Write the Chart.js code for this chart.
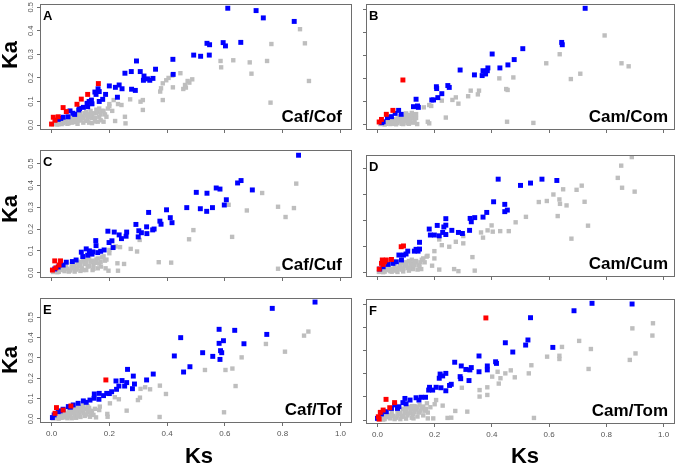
<!DOCTYPE html>
<html>
<head>
<meta charset="utf-8">
<script src="https://cdn.jsdelivr.net/npm/chart.js@4.4.1/dist/chart.umd.min.js"></script>
<style>
  body { margin: 0; background: #fff; }
  #wrap { position: relative; width: 680px; height: 467px; overflow: hidden; }
  canvas { position: absolute; }
</style>
</head>
<body>
<div id="wrap"></div>
<script>
// Ka / Ks pairs, one set of arrays per panel
const letters = ['A', 'B', 'C', 'D', 'E', 'F'];
const pairs = ['Caf/Cof', 'Cam/Com', 'Caf/Cuf', 'Cam/Cum', 'Caf/Tof', 'Cam/Tom'];
const xTicks = [0, 0.2, 0.4, 0.6, 0.8, 1.0];
const yTicks5 = [0, 0.1, 0.2, 0.3, 0.4, 0.5];
const yTicks4 = [0, 0.1, 0.2, 0.3, 0.4];

// A - Caf/Cof
const blueA = [[0.61,0.496],[0.708,0.486],[0.733,0.455],[0.84,0.44],[0.538,0.347],[0.547,0.341],[0.594,0.35],[0.602,0.336],[0.655,0.351],[0.492,0.297],[0.516,0.292],[0.546,0.297],[0.42,0.279],[0.294,0.272],[0.421,0.215],[0.36,0.237],[0.254,0.22],[0.276,0.227],[0.307,0.227],[0.32,0.208],[0.318,0.19],[0.34,0.19],[0.351,0.198],[0.332,0.196],[0.234,0.17],[0.221,0.16],[0.244,0.154],[0.228,0.118],[0.277,0.152],[0.29,0.147],[0.2,0.166],[0.161,0.154],[0.165,0.142],[0.154,0.13],[0.15,0.14],[0.187,0.13],[0.177,0.109],[0.138,0.106],[0.123,0.092],[0.14,0.09],[0.125,0.078],[0.097,0.07],[0.094,0.064],[0.064,0.06],[0.074,0.05],[0.057,0.035],[0.04,0.033],[0.023,0.024],[0.032,0.028],[0.165,0.1],[0.13,0.1],[0.11,0.075],[0.08,0.045]];
const redA = [[0.162,0.176],[0.125,0.13],[0.103,0.11],[0.088,0.088],[0.04,0.074],[0.051,0.057],[0.006,0.033],[0.023,0.035],[0,0.004],[0.012,0.02]];
const grayA = [[0.86,0.407],[0.877,0.347],[0.761,0.344],[0.891,0.187],[0.758,0.095],[0.746,0.272],[0.686,0.266],[0.692,0.218],[0.629,0.275],[0.585,0.272],[0.587,0.245],[0.487,0.194],[0.471,0.187],[0.477,0.18],[0.462,0.17],[0.456,0.153],[0.465,0.159],[0.446,0.22],[0.418,0.21],[0.405,0.2],[0.397,0.19],[0.385,0.177],[0.379,0.156],[0.376,0.142],[0.385,0.106],[0.42,0.16],[0.316,0.106],[0.308,0.099],[0.316,0.064],[0.272,0.109],[0.254,0.035],[0.256,0.007],[0.22,0.017],[0.215,0.106],[0.23,0.089],[0.242,0.085],[0.2,0.089],[0.18,0.014],[0.16,0.014],[0.154,0.05],[0.165,0.07],
  [0.005,0.003],[0.015,0.006],[0.025,0.004],[0.03,0.012],[0.04,0.008],[0.05,0.015],[0.055,0.005],[0.065,0.02],[0.07,0.01],[0.08,0.025],[0.085,0.012],[0.09,0.03],[0.1,0.02],[0.105,0.035],[0.11,0.01],[0.12,0.04],[0.125,0.025],[0.13,0.045],[0.14,0.03],[0.145,0.05],[0.15,0.015],[0.16,0.055],[0.165,0.035],[0.175,0.06],[0.185,0.045],[0.195,0.07],[0.045,0.02],[0.075,0.035],[0.095,0.045],[0.115,0.05],[0.135,0.06],[0.02,0.015],[0.06,0.03],[0.09,0.005],[0.13,0.01],[0.2,0.08],
  [0.01,0.01],[0.02,0.002],[0.035,0.004],[0.045,0.012],[0.06,0.008],[0.07,0.022],[0.08,0.015],[0.095,0.02],[0.1,0.038],[0.11,0.028],[0.12,0.018],[0.13,0.035],[0.14,0.045],[0.15,0.03],[0.155,0.065],[0.17,0.045],[0.18,0.06],[0.19,0.035],[0.12,0.055],[0.1,0.05],[0.085,0.04],[0.14,0.008],[0.17,0.02],[0.21,0.06]];

// B - Cam/Com
const blueB = [[0.726,0.503],[0.644,0.356],[0.646,0.346],[0.508,0.329],[0.478,0.282],[0.456,0.259],[0.428,0.246],[0.401,0.306],[0.386,0.246],[0.384,0.234],[0.369,0.234],[0.378,0.22],[0.366,0.213],[0.339,0.216],[0.289,0.237],[0.246,0.17],[0.251,0.162],[0.225,0.135],[0.206,0.165],[0.207,0.157],[0.211,0.118],[0.196,0.108],[0.19,0.108],[0.135,0.111],[0.14,0.082],[0.143,0.076],[0.126,0.079],[0.074,0.063],[0.083,0.046],[0.062,0.05],[0.049,0.036],[0.035,0.032],[0.02,0.014],[0.015,0.01]];
const redB = [[0.089,0.194],[0.054,0.063],[0.031,0.046],[0.014,0.024],[0.006,0.013]];
const grayB = [[0.794,0.386],[0.853,0.266],[0.878,0.253],[0.637,0.305],[0.59,0.266],[0.709,0.221],[0.676,0.198],[0.545,0.009],[0.453,0.014],[0.475,0.205],[0.426,0.201],[0.45,0.155],[0.455,0.151],[0.355,0.148],[0.351,0.132],[0.326,0.148],[0.317,0.124],[0.283,0.092],[0.274,0.119],[0.262,0.108],[0.225,0.105],[0.188,0.082],[0.181,0.086],[0.162,0.076],[0.239,0.032],[0.181,0.007],[0.176,0.014],[0.139,0.004],[0.135,0.047],[0.114,0.043],[0.112,0.022],[0.1,0.05],
  [0.01,0.004],[0.02,0.008],[0.03,0.005],[0.04,0.012],[0.05,0.006],[0.06,0.015],[0.07,0.008],[0.08,0.02],[0.09,0.012],[0.1,0.025],[0.11,0.015],[0.12,0.03],[0.13,0.02],[0.035,0.018],[0.055,0.025],[0.075,0.03],[0.095,0.035],[0.115,0.04],[0.065,0.003],[0.085,0.005],[0.105,0.008],[0.125,0.01],[0.045,0.028],[0.1,0.045],[0.12,0.052],
  [0.015,0.012],[0.025,0.002],[0.045,0.004],[0.055,0.012],[0.065,0.022],[0.075,0.015],[0.085,0.028],[0.09,0.004],[0.095,0.018],[0.105,0.03],[0.11,0.005],[0.115,0.022],[0.125,0.035],[0.13,0.045],[0.135,0.03],[0.08,0.038],[0.07,0.028],[0.06,0.005]];

// C - Caf/Cuf
const blueC = [[0.855,0.538],[0.644,0.411],[0.656,0.422],[0.695,0.379],[0.57,0.388],[0.583,0.383],[0.501,0.368],[0.538,0.364],[0.515,0.293],[0.557,0.298],[0.537,0.281],[0.605,0.334],[0.598,0.31],[0.468,0.298],[0.398,0.288],[0.336,0.276],[0.411,0.252],[0.417,0.229],[0.375,0.236],[0.379,0.222],[0.292,0.221],[0.329,0.21],[0.35,0.196],[0.355,0.2],[0.33,0.179],[0.302,0.192],[0.311,0.183],[0.3,0.164],[0.26,0.186],[0.258,0.167],[0.242,0.156],[0.234,0.173],[0.195,0.19],[0.217,0.186],[0.209,0.146],[0.199,0.138],[0.213,0.115],[0.153,0.147],[0.154,0.124],[0.12,0.109],[0.131,0.1],[0.143,0.095],[0.16,0.092],[0.103,0.094],[0.108,0.074],[0.085,0.058],[0.072,0.051],[0.051,0.048],[0.04,0.035],[0.023,0.026],[0.011,0.017],[0.182,0.104],[0.17,0.098],[0.14,0.085],[0.125,0.08]];
const redC = [[0.011,0.054],[0.031,0.054],[0.026,0.035],[0.003,0.012],[0.015,0.022]];
const grayC = [[0.847,0.408],[0.839,0.296],[0.81,0.255],[0.784,0.302],[0.784,0.018],[0.729,0.365],[0.676,0.285],[0.613,0.311],[0.625,0.164],[0.491,0.195],[0.476,0.153],[0.414,0.046],[0.371,0.048],[0.296,0.097],[0.305,0.15],[0.274,0.109],[0.251,0.04],[0.228,0.043],[0.23,0.009],[0.237,0.117],[0.222,0.12],[0.2,0.104],[0.2,0.089],[0.187,0.02],[0.197,0.009],[0.171,0.028],[0.154,0.051],[0.142,0.012],
  [0.005,0.003],[0.015,0.008],[0.025,0.004],[0.035,0.012],[0.045,0.007],[0.055,0.018],[0.065,0.01],[0.075,0.025],[0.085,0.014],[0.095,0.032],[0.105,0.02],[0.115,0.04],[0.125,0.028],[0.135,0.05],[0.145,0.035],[0.155,0.06],[0.165,0.042],[0.175,0.07],[0.05,0.028],[0.07,0.038],[0.09,0.045],[0.11,0.055],[0.13,0.065],[0.03,0.02],[0.08,0.005],[0.1,0.008],[0.12,0.012],[0.16,0.02],[0.185,0.055],
  [0.01,0.012],[0.02,0.002],[0.04,0.02],[0.06,0.005],[0.07,0.02],[0.08,0.03],[0.09,0.02],[0.1,0.035],[0.11,0.012],[0.12,0.045],[0.13,0.03],[0.14,0.055],[0.15,0.045],[0.16,0.065],[0.17,0.05],[0.18,0.075],[0.19,0.06],[0.12,0.06],[0.1,0.05],[0.145,0.018]];

// D - Cam/Cum
const blueD = [[0.422,0.36],[0.5,0.336],[0.535,0.345],[0.575,0.36],[0.627,0.355],[0.406,0.273],[0.445,0.263],[0.445,0.235],[0.454,0.241],[0.382,0.232],[0.369,0.214],[0.34,0.212],[0.324,0.209],[0.328,0.196],[0.239,0.208],[0.209,0.182],[0.232,0.176],[0.239,0.183],[0.181,0.168],[0.185,0.145],[0.199,0.145],[0.216,0.142],[0.228,0.155],[0.239,0.147],[0.26,0.163],[0.283,0.155],[0.297,0.151],[0.322,0.163],[0.147,0.117],[0.147,0.091],[0.142,0.083],[0.129,0.083],[0.106,0.083],[0.091,0.068],[0.075,0.068],[0.084,0.049],[0.066,0.042],[0.054,0.036],[0.037,0.032],[0.02,0.023],[0.008,0.014],[0.135,0.09],[0.1,0.072]];
const redD = [[0.083,0.1],[0.091,0.103],[0.049,0.051],[0.031,0.049],[0.017,0.049],[0.014,0.036],[0.02,0.032],[0.025,0.042],[0.006,0.014]];
const grayD = [[0.889,0.445],[0.852,0.412],[0.84,0.365],[0.855,0.327],[0.899,0.312],[0.714,0.335],[0.696,0.319],[0.649,0.321],[0.724,0.273],[0.736,0.181],[0.678,0.131],[0.661,0.259],[0.636,0.282],[0.638,0.265],[0.615,0.301],[0.592,0.276],[0.564,0.272],[0.63,0.218],[0.519,0.215],[0.483,0.194],[0.459,0.16],[0.429,0.16],[0.399,0.182],[0.385,0.163],[0.362,0.155],[0.369,0.135],[0.403,0.158],[0.3,0.141],[0.3,0.113],[0.274,0.119],[0.251,0.1],[0.225,0.106],[0.216,0.128],[0.199,0.083],[0.199,0.055],[0.191,0.027],[0.216,0.012],[0.172,0.062],[0.268,0.014],[0.283,0.006],[0.332,0.06],[0.34,0.008],[0.153,0.014],[0.147,0.023],[0.124,0.014],[0.13,0.04],
  [0.005,0.003],[0.015,0.006],[0.025,0.004],[0.035,0.01],[0.045,0.006],[0.055,0.015],[0.065,0.008],[0.075,0.02],[0.085,0.012],[0.095,0.028],[0.105,0.018],[0.115,0.035],[0.125,0.025],[0.135,0.045],[0.145,0.03],[0.155,0.05],[0.04,0.018],[0.06,0.025],[0.08,0.032],[0.1,0.04],[0.12,0.05],[0.07,0.003],[0.09,0.005],[0.11,0.008],[0.165,0.04],[0.175,0.065],
  [0.01,0.01],[0.02,0.002],[0.03,0.016],[0.05,0.004],[0.07,0.014],[0.08,0.022],[0.09,0.016],[0.1,0.028],[0.11,0.02],[0.12,0.035],[0.13,0.03],[0.14,0.012],[0.15,0.04],[0.16,0.055],[0.11,0.045],[0.09,0.038]];

// E - Caf/Tof
const blueE = [[0.912,0.575],[0.764,0.544],[0.58,0.441],[0.634,0.436],[0.745,0.416],[0.447,0.4],[0.595,0.385],[0.58,0.372],[0.666,0.37],[0.585,0.336],[0.589,0.326],[0.523,0.326],[0.558,0.308],[0.583,0.293],[0.425,0.31],[0.479,0.257],[0.457,0.231],[0.352,0.221],[0.263,0.244],[0.329,0.192],[0.283,0.211],[0.287,0.172],[0.28,0.149],[0.253,0.162],[0.26,0.179],[0.244,0.189],[0.223,0.187],[0.233,0.162],[0.225,0.146],[0.208,0.134],[0.191,0.126],[0.165,0.126],[0.148,0.123],[0.147,0.102],[0.164,0.097],[0.133,0.093],[0.11,0.089],[0.092,0.077],[0.075,0.069],[0.058,0.061],[0.04,0.048],[0.023,0.036],[0.009,0.02],[0.003,0.007],[0.12,0.082],[0.18,0.115],[0.2,0.125],[0.065,0.058],[0.03,0.04]];
const redE = [[0.188,0.192],[0.017,0.056],[0.04,0.044],[0.067,0.064],[0.012,0.028]];
const grayE = [[0.889,0.43],[0.874,0.41],[0.808,0.331],[0.742,0.369],[0.658,0.303],[0.626,0.248],[0.602,0.241],[0.531,0.241],[0.637,0.162],[0.597,0.033],[0.396,0.123],[0.375,0.164],[0.374,0.01],[0.341,0.146],[0.324,0.156],[0.308,0.148],[0.306,0.105],[0.299,0.093],[0.26,0.041],[0.233,0.097],[0.219,0.107],[0.202,0.077],[0.193,0.025],[0.194,0.011],[0.167,0.061],[0.165,0.044],[0.154,0.008],[0.133,0.011],
  [0.005,0.003],[0.012,0.008],[0.02,0.004],[0.028,0.012],[0.035,0.006],[0.042,0.018],[0.05,0.008],[0.058,0.025],[0.065,0.012],[0.072,0.032],[0.08,0.018],[0.088,0.04],[0.095,0.025],[0.102,0.045],[0.11,0.03],[0.118,0.05],[0.125,0.035],[0.13,0.055],[0.045,0.03],[0.06,0.04],[0.075,0.048],[0.09,0.055],[0.105,0.06],[0.03,0.022],[0.07,0.004],[0.085,0.006],[0.1,0.01],[0.115,0.015],[0.14,0.04],[0.15,0.05],[0.11,0.068],
  [0.015,0.014],[0.025,0.002],[0.04,0.01],[0.055,0.004],[0.065,0.025],[0.08,0.03],[0.09,0.015],[0.1,0.038],[0.11,0.048],[0.12,0.022],[0.125,0.062],[0.135,0.028],[0.145,0.02],[0.095,0.05],[0.08,0.045],[0.13,0.045]];

// F - Cam/Tom
const blueF = [[0.75,0.503],[0.89,0.5],[0.687,0.471],[0.535,0.441],[0.447,0.333],[0.526,0.345],[0.518,0.323],[0.473,0.293],[0.613,0.313],[0.355,0.276],[0.413,0.251],[0.416,0.244],[0.384,0.233],[0.384,0.216],[0.355,0.208],[0.328,0.226],[0.309,0.218],[0.323,0.216],[0.293,0.233],[0.27,0.249],[0.289,0.187],[0.291,0.178],[0.32,0.17],[0.258,0.154],[0.252,0.149],[0.239,0.201],[0.219,0.198],[0.216,0.18],[0.228,0.19],[0.205,0.141],[0.222,0.139],[0.239,0.126],[0.182,0.141],[0.179,0.129],[0.193,0.129],[0.168,0.098],[0.145,0.086],[0.135,0.096],[0.114,0.086],[0.096,0.093],[0.089,0.075],[0.075,0.057],[0.06,0.065],[0.049,0.05],[0.031,0.036],[0.014,0.026],[0,0.007],[0.153,0.098],[0.1,0.07],[0.07,0.05]];
const redF = [[0.379,0.44],[0.03,0.089],[0.06,0.075],[0.043,0.053],[0.02,0.043],[0.01,0.033],[0.003,0.014],[0.006,0.004]];
const grayF = [[0.963,0.417],[0.891,0.395],[0.961,0.364],[0.902,0.287],[0.882,0.259],[0.746,0.306],[0.738,0.22],[0.705,0.341],[0.645,0.315],[0.636,0.277],[0.636,0.263],[0.593,0.273],[0.538,0.236],[0.529,0.201],[0.547,0.009],[0.48,0.184],[0.466,0.214],[0.447,0.201],[0.43,0.18],[0.424,0.157],[0.42,0.208],[0.401,0.187],[0.384,0.141],[0.384,0.108],[0.357,0.129],[0.357,0.101],[0.295,0.139],[0.314,0.036],[0.272,0.039],[0.258,0.01],[0.245,0.009],[0.228,0.062],[0.205,0.086],[0.173,0.072],[0.176,0.032],[0.176,0.007],[0.195,0.007],[0.147,0.065],[0.126,0.007],
  [0.005,0.003],[0.015,0.007],[0.025,0.004],[0.035,0.012],[0.045,0.007],[0.055,0.018],[0.065,0.01],[0.075,0.025],[0.085,0.014],[0.095,0.03],[0.105,0.02],[0.115,0.038],[0.125,0.026],[0.135,0.045],[0.145,0.032],[0.155,0.05],[0.165,0.04],[0.05,0.03],[0.07,0.04],[0.09,0.048],[0.11,0.055],[0.13,0.06],[0.08,0.004],[0.1,0.006],[0.12,0.01],[0.14,0.015],[0.185,0.055],[0.2,0.068],[0.03,0.022],
  [0.01,0.012],[0.02,0.002],[0.04,0.02],[0.06,0.004],[0.07,0.02],[0.08,0.032],[0.09,0.018],[0.1,0.04],[0.11,0.028],[0.12,0.045],[0.13,0.035],[0.14,0.055],[0.15,0.04],[0.16,0.058],[0.17,0.048],[0.16,0.02],[0.12,0.06],[0.1,0.052]];

const blues = [blueA, blueB, blueC, blueD, blueE, blueF];
const reds = [redA, redB, redC, redD, redE, redF];
const grays = [grayA, grayB, grayC, grayD, grayE, grayF];

// layout of each panel: plot box and canvas region in page pixels
const panels = [
  { box: [40, 4, 352, 130],  cv: [0, 0, 358, 145],     y: [-0.0212, 0.514],  ticks: yTicks5, left: true, ka: 55 },
  { box: [366, 4, 675, 130], cv: [358, 0, 680, 145],   y: [-0.0216, 0.5216], ticks: yTicks5 },
  { box: [40, 150, 352, 278], cv: [0, 145, 358, 290],  y: [-0.0244, 0.562],  ticks: yTicks5, left: true, ka: 209 },
  { box: [366, 155, 675, 277], cv: [358, 145, 680, 290], y: [-0.0165, 0.453], ticks: yTicks4 },
  { box: [40, 298, 352, 423], cv: [0, 290, 358, 467],  y: [-0.0197, 0.595],  ticks: yTicks5, left: true, ka: 360, ks: 199, bottom: true },
  { box: [366, 299, 675, 424], cv: [358, 290, 680, 467], y: [-0.0172, 0.5216], ticks: yTicks5, ks: 525, bottom: true }
];

const FONT = '"Liberation Sans", Arial, sans-serif';
Chart.defaults.font.family = FONT;
const LINE = '#6e6e6e';

// box, panel letter, pair name, axis titles, rotated y tick labels
const panelDecor = {
  id: 'panelDecor',
  afterDraw(chart) {
    const o = chart.options.plugins.panelDecor;
    const p = o.panel;
    const { ctx, chartArea: a } = chart;
    ctx.save();
    ctx.strokeStyle = LINE;
    ctx.lineWidth = 1;
    ctx.strokeRect(Math.round(a.left) + 0.5, Math.round(a.top) + 0.5,
      Math.round(a.right - a.left) - 1, Math.round(a.bottom - a.top) - 1);

    ctx.fillStyle = '#000';
    ctx.textBaseline = 'alphabetic';
    ctx.font = 'bold 13px ' + FONT;
    ctx.textAlign = 'left';
    ctx.fillText(o.letter, a.left + 3, a.top + 15.5);

    ctx.font = 'bold 17px ' + FONT;
    ctx.textAlign = 'right';
    ctx.fillText(o.pair, a.right - (p.left ? 10 : 7), a.bottom - 8);

    ctx.font = 'bold 22px ' + FONT;
    ctx.textAlign = 'center';
    ctx.textBaseline = 'middle';
    if (p.ka) {
      ctx.save();
      ctx.translate(11 - p.cv[0], p.ka - p.cv[1]);
      ctx.rotate(-Math.PI / 2);
      ctx.fillText('Ka', 0, 0);
      ctx.restore();
    }
    if (p.ks) {
      ctx.fillText('Ks', p.ks - p.cv[0], 457 - p.cv[1]);
    }

    if (p.left) {
      const ys = chart.scales.y;
      ctx.font = '7.5px ' + FONT;
      ctx.fillStyle = '#555';
      ys.ticks.forEach(t => {
        ctx.save();
        ctx.translate(a.left - 9, ys.getPixelForValue(t.value));
        ctx.rotate(-Math.PI / 2);
        ctx.fillText(t.value.toFixed(1), 0, 0);
        ctx.restore();
      });
    }
    ctx.restore();
  }
};

const wrap = document.getElementById('wrap');
const toPts = arr => arr.map(([x, y]) => ({ x, y }));

panels.forEach((p, i) => {
  const c = document.createElement('canvas');
  const w = p.cv[2] - p.cv[0], h = p.cv[3] - p.cv[1];
  c.width = w; c.height = h;
  c.style.left = p.cv[0] + 'px';
  c.style.top = p.cv[1] + 'px';
  c.style.width = w + 'px';
  c.style.height = h + 'px';
  wrap.appendChild(c);

  const yW = p.box[0] - p.cv[0];
  const xH = p.cv[3] - p.box[3];

  new Chart(c.getContext('2d'), {
    type: 'scatter',
    data: {
      datasets: [
        { data: toPts(reds[i]), backgroundColor: '#ff0000', pointStyle: 'rect', pointRadius: 3.5, borderWidth: 0 },
        { data: toPts(blues[i]), backgroundColor: '#0000ff', pointStyle: 'rect', pointRadius: 3.5, borderWidth: 0 },
        { data: toPts(grays[i]), backgroundColor: '#bebebe', pointStyle: 'rect', pointRadius: 3.1, borderWidth: 0 }
      ]
    },
    options: {
      responsive: false,
      animation: false,
      events: [],
      layout: { padding: { top: p.box[1] - p.cv[1], right: p.cv[2] - p.box[2], left: 0, bottom: 0 } },
      plugins: {
        legend: { display: false },
        tooltip: { enabled: false },
        panelDecor: { panel: p, letter: letters[i], pair: pairs[i] }
      },
      scales: {
        x: {
          type: 'linear',
          min: -0.04,
          max: 1.04,
          afterBuildTicks: s => { s.ticks = xTicks.map(v => ({ value: v })); },
          afterFit: s => { s.height = xH; },
          grid: { drawOnChartArea: false, tickLength: 3, color: LINE },
          border: { display: false },
          ticks: {
            display: !!p.bottom,
            color: '#555',
            font: { size: 8 },
            padding: 3,
            maxRotation: 0,
            callback: v => Number(v).toFixed(1)
          }
        },
        y: {
          type: 'linear',
          min: p.y[0],
          max: p.y[1],
          afterBuildTicks: s => { s.ticks = p.ticks.map(v => ({ value: v })); },
          afterFit: s => { s.width = yW; },
          grid: { drawOnChartArea: false, tickLength: 3, color: LINE },
          border: { display: false },
          ticks: { display: false }
        }
      }
    },
    plugins: [panelDecor]
  });
});
</script>
</body>
</html>
